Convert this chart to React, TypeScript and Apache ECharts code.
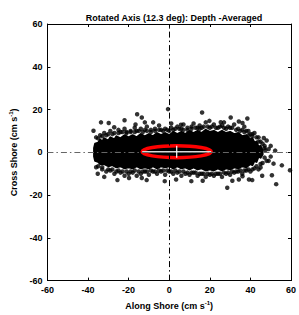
import React, { useEffect, useRef } from "react";
import * as echarts from "echarts";

const title = "Rotated Axis (12.3 deg): Depth -Averaged";

// dense core of the cloud (outline, along-shore, cross-shore)
const coreUpper: number[][] = [
  [-37, 2], [-36.5, 4], [-35, 4.5], [-34, 6], [-33, 5], [-32, 6.5], [-30, 5.5], [-29, 7],
  [-27, 6], [-26, 7.5], [-24, 6.5], [-22, 8], [-20, 7], [-18, 8], [-16, 7], [-14, 8.5],
  [-12, 7.5], [-10, 8.5], [-8, 7.5], [-6, 9], [-4, 8], [-2, 9], [0, 8], [2, 9.5], [4, 8.5],
  [6, 9.5], [8, 8.5], [10, 10], [12, 9], [14, 10], [16, 9], [18, 10.5], [20, 9.5],
  [22, 10], [24, 9], [26, 10], [28, 9], [30, 9.5], [32, 8.5], [34, 9], [36, 7.5],
  [38, 8], [40, 6], [41, 6.5], [42, 4.5], [43, 5], [44, 2.5], [45, 3], [46, 1],
];
const coreLower: number[][] = [
  [46, -1], [45, -2.5], [44, -2], [43, -4.5], [42, -4], [41, -6], [40, -5.5], [38, -7],
  [36, -6.5], [34, -7.5], [32, -7], [30, -8], [28, -7.5], [26, -8.5], [24, -7.5], [22, -8.5],
  [20, -8], [18, -8.5], [16, -7.5], [14, -8], [12, -7], [10, -8], [8, -7], [6, -7.5],
  [4, -6.5], [2, -7.5], [0, -6.5], [-2, -7], [-4, -6.5], [-6, -7.5], [-8, -6.5], [-10, -7.5],
  [-12, -7], [-14, -7.5], [-16, -6.5], [-18, -7.5], [-20, -7], [-22, -7.5], [-24, -6.5],
  [-26, -7], [-28, -6], [-30, -6.5], [-32, -5.5], [-34, -5.5], [-35, -4.5], [-36.5, -4], [-37, -2],
];
const coreOutline = [...coreUpper, ...coreLower];

// individual points along the cloud edge and outliers
const edgeNearUpper: number[][] = [
  [-35, 6.5], [-33, 7.5], [-31, 8], [-28, 8.5], [-25, 9], [-23, 9.5], [-21, 9], [-19, 9.5],
  [-17, 9.5], [-15, 10], [-13, 9.5], [-11, 10], [-9, 9.5], [-7, 10], [-5, 10.5], [-3, 10],
  [-1, 10.5], [0, 10], [3, 11], [5, 11], [7, 10.5], [9, 10.5], [11, 11], [13, 11.5],
  [15, 11], [16, 11.5], [19, 12], [20, 11.5], [23, 11.5], [25, 12], [27, 11.5], [28, 11],
  [30, 11.5], [33, 10.5], [35, 10], [37, 9.5], [38, 10], [39, 8], [41, 8.5], [43, 7],
  [44, 5], [46, 4], [47, 2],
];
const edgeNearLower: number[][] = [
  [-35, -6.5], [-33, -7], [-30, -8], [-28, -8], [-25, -8.5], [-23, -9], [-21, -9], [-19, -9],
  [-17, -8.5], [-15, -9], [-13, -9], [-11, -9], [-9, -8.5], [-7, -9], [-5, -8.5], [-3, -8.5],
  [-1, -8.5], [1, -9], [3, -8.5], [5, -9], [7, -9], [9, -9.5], [11, -9.5], [13, -9.5],
  [15, -10], [17, -10], [19, -10], [21, -10], [23, -10], [25, -10], [27, -9.5], [29, -9.5],
  [31, -9], [33, -9], [35, -8.5], [37, -8.5], [39, -8], [41, -8], [43, -6.5], [45, -5.5],
  [47, -2.5],
];
const edgeUpper: number[][] = [
  [-36, 7], [-34, 8], [-32, 9], [-30, 8.5], [-29, 10], [-27, 9], [-25, 10.5], [-24, 9.5],
  [-22, 11], [-21, 9.5], [-19, 10], [-17, 11.5], [-16, 10], [-14, 11], [-12, 10.5], [-11, 12],
  [-9, 10.5], [-7, 11], [-5, 12.5], [-4, 10.5], [-2, 11], [1, 11.5], [2, 10.5], [4, 12],
  [6, 11], [7, 13], [9, 11.5], [11, 12], [12, 13.5], [14, 11.5], [15, 12.5], [17, 12],
  [18, 14], [21, 12], [22, 13], [24, 11.5], [26, 12.5], [27, 14], [29, 12], [31, 11.5],
  [32, 13], [34, 11], [36, 10.5], [37, 12], [39, 10], [40, 8.5], [42, 9], [44, 7],
  [45, 5], [47, 3], [48, 5.5], [49, 1.5], [50, 3],
];
const edgeLower: number[][] = [
  [-36, -7], [-33, -8], [-31, -9], [-29, -8.5], [-27, -10], [-26, -9], [-24, -9.5], [-22, -11],
  [-20, -10], [-18, -9.5], [-16, -11], [-14, -10], [-12, -9], [-10, -10.5], [-8, -9], [-6, -10],
  [-4, -9], [-2, -10.5], [0, -9], [2, -10], [4, -9.5], [6, -11], [8, -10], [10, -10.5],
  [12, -9.5], [14, -11], [16, -10], [18, -11.5], [20, -10.5], [22, -11], [24, -10], [26, -11.5],
  [28, -10], [30, -10.5], [32, -9.5], [34, -9], [36, -10], [38, -8.5], [40, -9], [42, -7.5],
  [44, -8], [46, -5], [48, -4], [50, -2],
];
const outliers: number[][] = [
  [-37.3, 10.1], [-33.6, 14], [-29.8, 13.7], [-27.1, 11.7], [-22, 15], [-15.8, 17.8], [-16.6, 13],
  [-12, 14], [-13.5, 16.3], [-7.9, 14], [-0.6, 20.2], [1, 13.5], [5.8, 12.9],
  [-35.2, -10], [-32, -11.5], [-25.5, -13], [-19.8, -12], [-13.5, -12], [-11.1, -13], [-2.2, -13.5],
  [3.4, -12.7], [10.9, -13.5], [16.5, -13.3], [28.6, -16.6], [31.1, -13.3], [34.3, -12.7], [36.1, -11.2],
  [16.2, 18.6], [19.8, 14.7], [25.4, 14.1], [30.3, 16.3], [34.3, 14.4], [36.1, 13.7], [38.5, 15.8],
  [40.9, 7.5], [46.6, 6.7], [47.4, 1], [52.2, 0.8], [49, -4], [51.4, -5.3], [55.5, -6.1], [45, -7.1],
  [59.5, -8.4], [50.6, -10.7], [45.8, -11], [52.7, -14.9], [39.3, -12.7], [40.9, -13],
];

// principal-axis ellipse: centre along, centre cross, semi-major, semi-minor
const ellipse = [[3.7, 0.3, 17, 2.8]];

const font = "'Liberation Sans', Arial, sans-serif";

export default function App() {
  const ref = useRef<HTMLDivElement>(null);
  useEffect(() => {
    if (!ref.current) return;
    const chart = echarts.init(ref.current, null, { renderer: "svg" });
    const axisCommon = {
      type: "value" as const,
      min: -60,
      max: 60,
      interval: 20,
      splitLine: { show: false },
      axisLine: { show: true, onZero: false, lineStyle: { color: "#000", width: 1 } },
      axisTick: { show: true, inside: true, length: 3, lineStyle: { color: "#000" } },
    };
    const labelStyle = { color: "#000", fontSize: 9, fontWeight: "bold" as const, fontFamily: font };
    const nameStyle = {
      color: "#000",
      fontSize: 9,
      fontWeight: "bold" as const,
      fontFamily: font,
      rich: {
        sup: { fontSize: 6, fontWeight: "bold" as const, fontFamily: font, verticalAlign: "top" as const, padding: [0, 0, 6, 0] },
      },
    };
    chart.setOption({
      animation: false,
      backgroundColor: "#fff",
      title: {
        text: title,
        left: 169,
        textAlign: "center",
        top: 8,
        textStyle: { color: "#000", fontSize: 9, fontWeight: "bold", fontFamily: font },
      },
      grid: { left: 45, right: 6, top: 24, bottom: 32, containLabel: false },
      xAxis: [
        {
          ...axisCommon,
          position: "bottom",
          axisLabel: { ...labelStyle, margin: 5, showMinLabel: true, showMaxLabel: true },
          name: "Along Shore (cm s{sup|-1})",
          nameLocation: "middle",
          nameGap: 18,
          nameTextStyle: nameStyle,
        },
        { ...axisCommon, position: "top", axisLabel: { show: false } },
      ],
      yAxis: [
        {
          ...axisCommon,
          position: "left",
          axisLabel: { ...labelStyle, margin: 5 },
          name: "Cross Shore (cm s{sup|-1})",
          nameLocation: "middle",
          nameGap: 24,
          nameTextStyle: nameStyle,
        },
        { ...axisCommon, position: "right", axisLabel: { show: false } },
      ],
      series: [
        {
          type: "custom",
          data: coreOutline,
          renderItem: (params: any, api: any) => {
            if (params.dataIndex !== 0) return null;
            return {
              type: "polygon",
              shape: { points: coreOutline.map((p) => api.coord(p)) },
              style: { fill: "#000", stroke: "#000", lineWidth: 2, lineJoin: "round" },
            };
          },
          z: 2,
          silent: true,
        },
        {
          type: "scatter",
          data: [...edgeNearUpper, ...edgeNearLower, ...edgeUpper, ...edgeLower, ...outliers],
          symbolSize: 4.5,
          itemStyle: { color: "#000" },
          z: 3,
          silent: true,
        },
        {
          type: "custom",
          data: ellipse,
          renderItem: (params: any, api: any) => {
            const c = api.coord([api.value(0), api.value(1)]);
            const s = api.size([api.value(2), api.value(3)]);
            return {
              type: "group",
              children: [
                {
                  type: "ellipse",
                  shape: { cx: c[0], cy: c[1], rx: s[0], ry: s[1] },
                  style: { fill: "none", stroke: "#ff0000", lineWidth: 3.5 },
                },
                {
                  type: "line",
                  shape: { x1: c[0] - s[0], y1: c[1], x2: c[0] + s[0], y2: c[1] },
                  style: { stroke: "#d8d8d8", lineWidth: 1.5 },
                },
                {
                  type: "line",
                  shape: { x1: c[0], y1: c[1] - s[1], x2: c[0], y2: c[1] + s[1] },
                  style: { stroke: "#fff", lineWidth: 1.2 },
                },
              ],
            };
          },
          z: 4,
          silent: true,
        },
        {
          type: "scatter",
          data: [],
          z: 5,
          markLine: {
            silent: true,
            symbol: "none",
            label: { show: false },
            data: [
              { xAxis: 0, lineStyle: { color: "#000", width: 1, type: [6, 3, 1.5, 3] } },
              { yAxis: 0, lineStyle: { color: "#666", width: 1, type: [6, 3, 1.5, 3] } },
            ],
          },
        },
      ],
    });
    return () => chart.dispose();
  }, []);
  return <div ref={ref} style={{ position: "absolute", left: 0, top: 0, width: 299, height: 315 }} />;
}
